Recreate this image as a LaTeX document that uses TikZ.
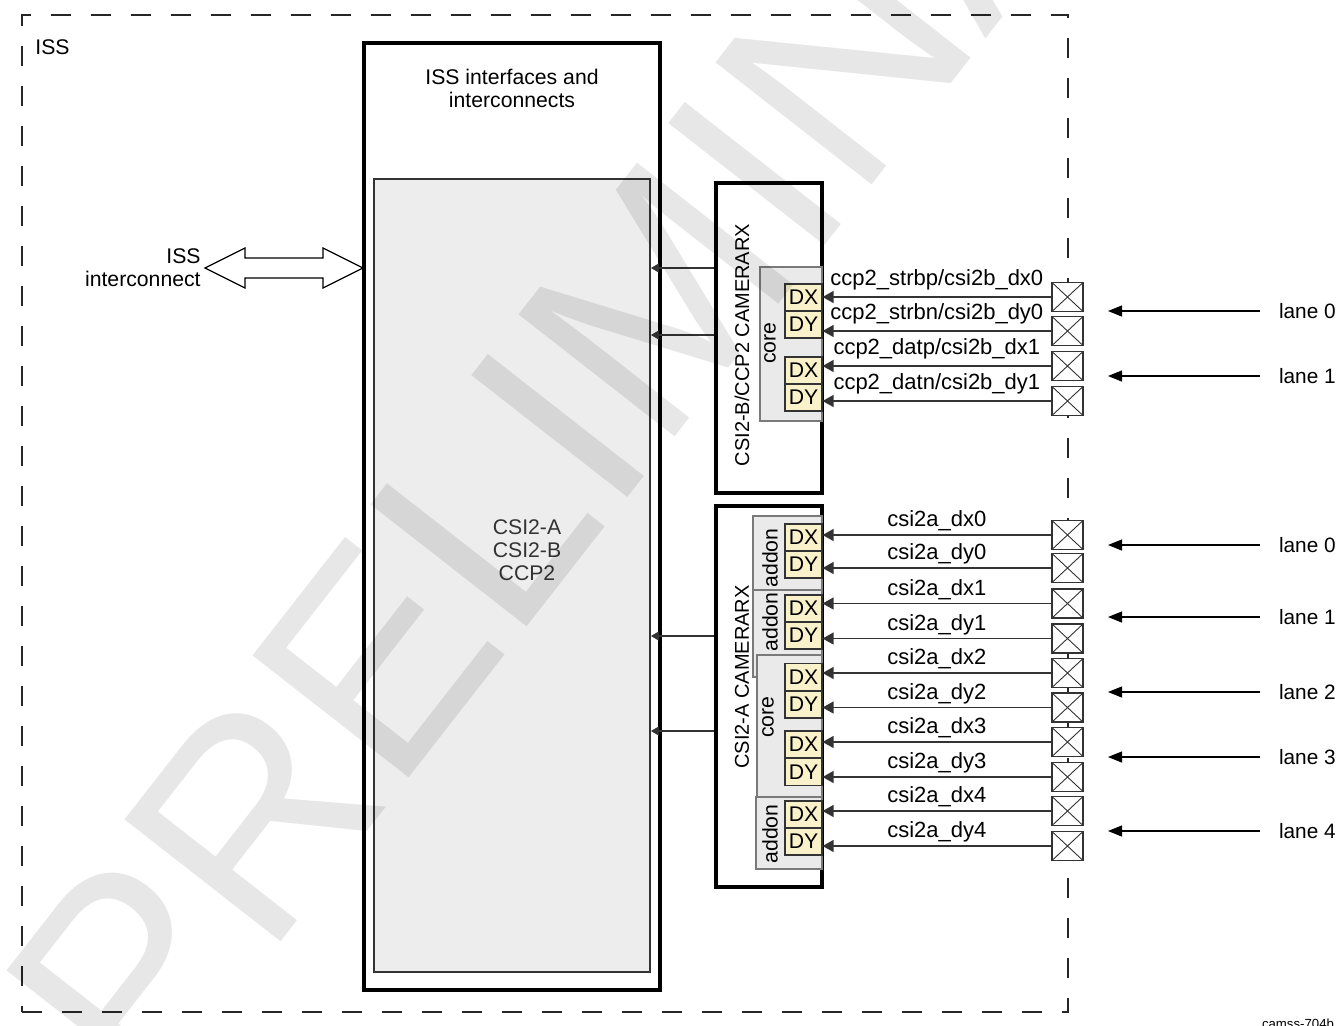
\documentclass[tikz,border=0pt]{standalone}
\usepackage{fontspec}
\setmainfont{Liberation Sans}
\usepackage{tikz}
\usetikzlibrary{arrows.meta,positioning,calc}
\definecolor{boxgray}{HTML}{EDEDED}
\definecolor{subgray}{HTML}{EAEAEA}
\definecolor{padyellow}{HTML}{F8F1C9}
\definecolor{edge}{HTML}{333333}
\definecolor{muted}{HTML}{7A7A7A}
\tikzset{
  every node/.style={font=\fontsize{10.6}{11.5}\selectfont},
  issframe/.style={draw=black!85,line width=1.1pt,dash pattern=on 10pt off 10pt,inner sep=0pt},
  block/.style={draw=black,line width=1.7pt,inner sep=0pt},
  subbox/.style={draw=muted,fill=subgray,line width=0.6pt,inner sep=0pt},
  dxy/.style={draw=edge,fill=padyellow,line width=0.6pt,minimum width=18.5pt,
    minimum height=13.5pt,inner sep=0pt},
  padcell/.style={draw=edge,fill=white,line width=0.9pt,minimum width=15.5pt,
    minimum height=14.5pt,inner sep=0pt,
    path picture={\draw[line width=0.45pt] (path picture bounding box.south west) -- (path picture bounding box.north east)
      (path picture bounding box.north west) -- (path picture bounding box.south east);}},
  sig/.style={-{Triangle[length=5.5pt,width=6pt]},draw=edge,line width=0.7pt},
  outarr/.style={-{Triangle[length=4pt,width=4.5pt]},draw=edge,line width=0.6pt},
  lanearr/.style={-{Triangle[length=7pt,width=5.5pt]},draw=black,line width=0.6pt},
  siglabel/.style={above,inner sep=1.5pt,font=\fontsize{11}{12}\selectfont},
  lanelbl/.style={anchor=west,inner sep=3pt,outer sep=6.5pt,font=\fontsize{10.4}{11}\selectfont},
  vlabel/.style={rotate=90,inner sep=0pt},
  hollow/.style={draw=black,fill=white,line width=0.6pt,line join=miter},
  watermark/.style={text=black,text opacity=0.095,inner sep=0pt,
    font=\fontsize{144}{144}\selectfont}
}

\begin{document}
\begin{tikzpicture}[x=0.5pt,y=-0.5pt]
  \useasboundingbox (0,0) rectangle (1341,1025);
  \node[issframe,minimum width=523pt,minimum height=498.5pt] (issb) at (545,513.5) {};
  \node[anchor=west,inner sep=0pt] (issl) at (35,47) {ISS};
  \node[anchor=east,align=right,inner sep=0pt] (isl) at (201,268) {ISS\\interconnect};

  \node[block,minimum width=148pt,minimum height=473.5pt] (iface) at (512,516.5) {};
  \node[draw=edge,fill=boxgray,line width=0.9pt,minimum width=138pt,minimum height=396.5pt,
    inner sep=0pt] (csi) at (512,575.5) {};
  \node[align=center] (ifl) at (512,88.5) {ISS interfaces and\\interconnects};
  \node[align=center,text=black!80] (csil) at (527,550) {CSI2-A\\CSI2-B\\CCP2};
  \draw[hollow] ($(isl.east)+(4,0)$) -- ++(40,-20) -- ++(0,10) -- ++(78,0) -- ++(0,-10)
    -- ++(40,20) -- ++(-40,20) -- ++(0,-10) -- ++(-78,0) -- ++(0,10) -- cycle;

  \node[block,line width=1.6pt,minimum width=53pt,minimum height=155pt] (camb) at (769,338) {};
  \node[subbox,minimum width=31pt,minimum height=77pt] (coreb) at (791,344) {};
  \node[vlabel,font=\fontsize{10}{11}\selectfont] (cambl) at (742,345) {CSI2-B/CCP2 CAMERARX};
  \node[vlabel] (corebl) at (770,343) {core};
  \foreach \y/\t [count=\i] in {297.5/DX,324.5/DY,370.5/DX,397.5/DY}
    \node[dxy] (db\i) at (803.5,\y) {\t};

  \node[block,line width=1.6pt,minimum width=53pt,minimum height=190.5pt] (cama) at (769,696.5) {};
  \node[subbox,minimum width=34.5pt,minimum height=37pt] (add1) at (787.5,553) {};
  \node[subbox,minimum width=34.5pt,minimum height=43.5pt] (add2) at (787.5,633.5) {};
  \node[subbox,minimum width=32.5pt,minimum height=71pt] (corea) at (789.5,726) {};
  \node[subbox,minimum width=33pt,minimum height=36pt] (add3) at (789,833) {};
  \node[vlabel,font=\fontsize{10}{11}\selectfont] (camal) at (742,677) {CSI2-A CAMERARX};
  \node[vlabel] (add1l) at (770,558) {addon};
  \node[vlabel] (add2l) at (770,622) {addon};
  \node[vlabel] (coreal) at (768,717) {core};
  \node[vlabel] (add3l) at (770,834) {addon};
  \foreach \y/\t [count=\i] in {537.5/DX,564.5/DY,608.5/DX,635.5/DY,677/DX,704.5/DY,744.5/DX,772/DY,814.5/DX,841.5/DY}
    \node[dxy] (da\i) at (803.5,\y) {\t};

  \foreach \y/\s [count=\i] in {297/{ccp2\_strbp/csi2b\_dx0},331/{ccp2\_strbn/csi2b\_dy0},
      366/{ccp2\_datp/csi2b\_dx1},401/{ccp2\_datn/csi2b\_dy1}} {
    \node[padcell] (pb\i) at (1067.5,\y) {};
    \draw[sig] (pb\i.west) -- (pb\i.west -| db\i.east) node[siglabel,midway,yshift=1.5pt] {\s};
  }
  \foreach \y/\s [count=\i] in {535/dx0,568/dy0,603.5/dx1,638.5/dy1,673/dx2,707.5/dy2,742/dx3,777/dy3,811/dx4,846/dy4} {
    \node[padcell] (pa\i) at (1067.5,\y) {};
    \draw[sig] (pa\i.west) -- (pa\i.west -| da\i.east) node[siglabel,midway] {csi2a\_\s};
  }

  \draw[outarr] (camb.west |- 0,268) -- (csi.east |- 0,268);
  \draw[outarr] (camb.west |- 0,335) -- (csi.east |- 0,335);
  \draw[outarr] (cama.west |- 0,636) -- (csi.east |- 0,636);
  \draw[outarr] (cama.west |- 0,731) -- (csi.east |- 0,731);

  \foreach \y/\n/\k in {311/0/b0,376/1/b1,545/0/a0,617/1/a1,692/2/a2,757/3/a3,831/4/a4} {
    \node[lanelbl] (l\k) at (1260,\y) {lane \n};
    \coordinate (t\k) at (1108,\y);
    \draw[lanearr] (l\k) -- (t\k);
  }

  \node[anchor=north,inner sep=0pt,font=\fontsize{6.6}{7}\selectfont] (fig) at (1298,1019) {camss-704b};
  \node[watermark,rotate=52,anchor=base west] (prelim) at (148,1112) {PRELIMINARY};
\end{tikzpicture}
\end{document}
